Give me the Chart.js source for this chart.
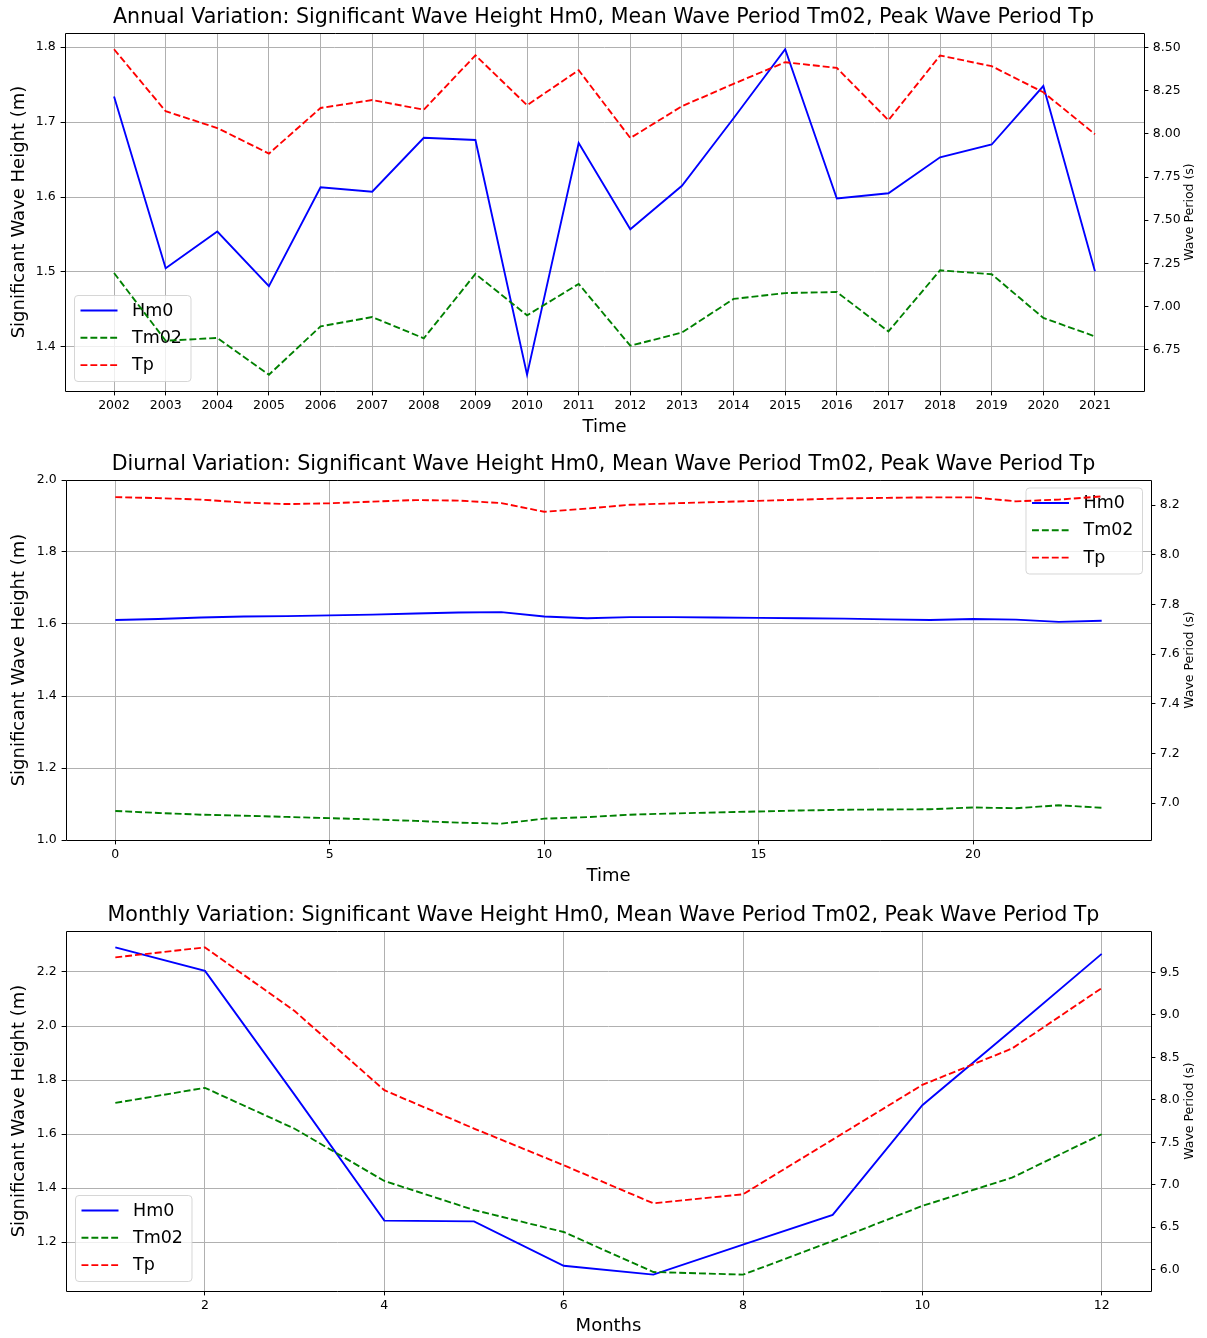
<!DOCTYPE html>
<html>
<head>
<meta charset="utf-8">
<script src="https://cdn.jsdelivr.net/npm/chart.js@4.4.0/dist/chart.umd.min.js"></script>
<style>
  html, body { margin: 0; padding: 0; background: #fff; }
  body { width: 1207px; height: 1338px; position: relative; overflow: hidden; }
  canvas { position: absolute; left: 0; }
</style>
</head>
<body>
<canvas id="c1" width="1207" height="446" style="top:0px"></canvas>
<canvas id="c2" width="1207" height="447" style="top:446px"></canvas>
<canvas id="c3" width="1207" height="445" style="top:893px"></canvas>
<script>
// ---------------- DATA ----------------
const years = [2002, 2003, 2004, 2005, 2006, 2007, 2008, 2009, 2010, 2011,
               2012, 2013, 2014, 2015, 2016, 2017, 2018, 2019, 2020, 2021];
const annualHm0  = [1.734, 1.505, 1.554, 1.481, 1.613, 1.607, 1.679, 1.676, 1.363, 1.672,
                    1.557, 1.615, 1.705, 1.797, 1.598, 1.605, 1.653, 1.670, 1.748, 1.501];
const annualTm02 = [7.194, 6.802, 6.818, 6.605, 6.885, 6.939, 6.816, 7.189, 6.949, 7.131,
                    6.773, 6.849, 7.044, 7.078, 7.084, 6.856, 7.210, 7.187, 6.934, 6.827];
const annualTp   = [8.490, 8.131, 8.034, 7.886, 8.150, 8.196, 8.140, 8.455, 8.166, 8.369,
                    7.976, 8.160, 8.290, 8.415, 8.382, 8.079, 8.454, 8.392, 8.241, 7.998];

const hours = [0, 1, 2, 3, 4, 5, 6, 7, 8, 9, 10, 11, 12, 13, 14, 15, 16, 17, 18, 19, 20, 21, 22, 23];
const diurnalHm0  = [1.611, 1.614, 1.618, 1.621, 1.622, 1.624, 1.626, 1.629, 1.632, 1.633, 1.621, 1.616,
                     1.619, 1.619, 1.618, 1.617, 1.616, 1.615, 1.613, 1.611, 1.614, 1.612, 1.606, 1.609];
const diurnalTm02 = [6.968, 6.960, 6.953, 6.949, 6.944, 6.939, 6.934, 6.928, 6.921, 6.917, 6.937, 6.943,
                     6.953, 6.958, 6.962, 6.966, 6.970, 6.973, 6.974, 6.975, 6.982, 6.979, 6.991, 6.981];
const diurnalTp   = [8.232, 8.228, 8.222, 8.210, 8.204, 8.207, 8.214, 8.220, 8.218, 8.208, 8.173, 8.186,
                     8.201, 8.207, 8.212, 8.217, 8.222, 8.227, 8.229, 8.231, 8.231, 8.215, 8.222, 8.235];

const months = [1, 2, 3, 4, 5, 6, 7, 8, 9, 10, 11, 12];
const monthlyHm0  = [2.291, 2.204, 1.745, 1.280, 1.277, 1.113, 1.080, 1.191, 1.301, 1.707, 1.985, 2.267];
const monthlyTm02 = [7.964, 8.141, 7.660, 7.045, 6.703, 6.444, 5.973, 5.942, 6.338, 6.751, 7.084, 7.595];
const monthlyTp   = [9.677, 9.795, 9.045, 8.113, 7.662, 7.230, 6.782, 6.888, 7.532, 8.176, 8.604, 9.315];

// tick labels
const annualXTicks  = years;
const annualYTicks  = [1.4, 1.5, 1.6, 1.7, 1.8];
const annualY1Ticks = [6.75, 7.00, 7.25, 7.50, 7.75, 8.00, 8.25, 8.50];
const diurnalXTicks  = [0, 5, 10, 15, 20];
const diurnalYTicks  = [1.0, 1.2, 1.4, 1.6, 1.8, 2.0];
const diurnalY1Ticks = [7.0, 7.2, 7.4, 7.6, 7.8, 8.0, 8.2];
const monthlyXTicks  = [2, 4, 6, 8, 10, 12];
const monthlyYTicks  = [1.2, 1.4, 1.6, 1.8, 2.0, 2.2];
const monthlyY1Ticks = [6.0, 6.5, 7.0, 7.5, 8.0, 8.5, 9.0, 9.5];

const seriesLabels = ['Hm0', 'Tm02', 'Tp'];
const titles = [
  'Annual Variation: Significant Wave Height Hm0, Mean Wave Period Tm02, Peak Wave Period Tp',
  'Diurnal Variation: Significant Wave Height Hm0, Mean Wave Period Tm02, Peak Wave Period Tp',
  'Monthly Variation: Significant Wave Height Hm0, Mean Wave Period Tm02, Peak Wave Period Tp'
];
const xAxisLabels = ['Time', 'Time', 'Months'];
const leftAxisLabel = 'Significant Wave Height (m)';
const rightAxisLabel = 'Wave Period (s)';

// ---------------- STYLE / LAYOUT ----------------
const FONT = "'DejaVu Sans', 'Liberation Sans', sans-serif";
const PAGE_W = 1207;
const LW = 1.875;
const DASH = [6.9, 3.0];
const GRID = '#b0b0b0';
const TITLE_SIZE = 20.6;

function lim(arrs) {
  let mn = Infinity, mx = -Infinity;
  arrs.forEach(a => a.forEach(v => { if (v < mn) mn = v; if (v > mx) mx = v; }));
  const p = (mx - mn) * 0.05;
  return [mn - p, mx + p];
}

function roundRect(ctx, x, y, w, h, r) {
  ctx.beginPath();
  ctx.moveTo(x + r, y);
  ctx.lineTo(x + w - r, y);
  ctx.arcTo(x + w, y, x + w, y + r, r);
  ctx.lineTo(x + w, y + h - r);
  ctx.arcTo(x + w, y + h, x + w - r, y + h, r);
  ctx.lineTo(x + r, y + h);
  ctx.arcTo(x, y + h, x, y + h - r, r);
  ctx.lineTo(x, y + r);
  ctx.arcTo(x, y, x + r, y, r);
  ctx.closePath();
}

const decoPlugin = {
  id: 'deco',
  afterDatasetDraw(chart, args, o) {
    if (args.index !== 0) return;   // legend sits above Hm0 but below the twin-axis lines
    const ctx = chart.ctx, a = chart.chartArea;
    const ds = chart.data.datasets;
    ctx.save();
    ctx.font = '17.5px ' + FONT;
    const tw = Math.max(...ds.map(d => ctx.measureText(d.label).width));
    const w = 57.5 + tw + 9, h = 86;
    let x, y;
    if (o.legend === 'll') { x = a.left + 9.5; y = a.bottom - 9.5 - h; }
    else { x = a.right - 8.5 - w; y = a.top + 8; }
    roundRect(ctx, x, y, w, h, 3.5);
    ctx.fillStyle = 'rgba(255,255,255,0.8)';
    ctx.fill();
    ctx.strokeStyle = 'rgba(204,204,204,0.8)';
    ctx.lineWidth = 1;
    ctx.stroke();
    ds.forEach((d, i) => {
      const cy = y + 15 + i * 27.3;
      ctx.beginPath();
      ctx.setLineDash(d.borderDash || []);
      ctx.strokeStyle = d.borderColor;
      ctx.lineWidth = d.borderWidth;
      ctx.moveTo(x + 6, cy);
      ctx.lineTo(x + 43, cy);
      ctx.stroke();
      ctx.setLineDash([]);
      ctx.fillStyle = '#000';
      ctx.textBaseline = 'middle';
      ctx.textAlign = 'left';
      ctx.fillText(d.label, x + 57.5, cy + 0.5);
    });
    ctx.restore();
  },
  afterDatasetsDraw(chart, args, o) {
    const ctx = chart.ctx, a = chart.chartArea;
    ctx.save();
    ctx.strokeStyle = '#000';
    ctx.lineWidth = 1;
    ctx.beginPath();
    ctx.rect(a.left + 0.5, a.top + 0.5, a.right - a.left, a.bottom - a.top);
    ctx.stroke();
    // right axis label (reads bottom-to-top like matplotlib)
    ctx.font = '12.5px ' + FONT;
    ctx.fillStyle = '#000';
    ctx.textAlign = 'center';
    ctx.textBaseline = 'middle';
    ctx.translate(o.rightLabelX, (a.top + a.bottom) / 2);
    ctx.rotate(-Math.PI / 2);
    ctx.fillText(rightAxisLabel, 0, 0);
    ctx.restore();
  }
};

function setTicks(values) {
  return (scale) => { scale.ticks = values.map(v => ({ value: v })); };
}

function build(id, cfg) {
  const g = cfg.geom;
  const H = g.canvasH;
  const lhTitle = TITLE_SIZE * 1.2, lhAxis = 18 * 1.2;
  const tPadTop = g.titleMid - g.canvasTop - lhTitle / 2;
  const tPadBot = (g.plotTop - g.canvasTop) - tPadTop - lhTitle;
  const xTitlePad = (g.canvasTop + H) - g.xTitleMid - lhAxis / 2;
  const xl = lim([cfg.x]);
  const yl = cfg.yLim || lim([cfg.hm0]);
  const y1l = lim([cfg.tm02, cfg.tp]);
  const tickFont = { family: FONT, size: 12.5 };
  const mk = (arr) => cfg.x.map((v, i) => ({ x: v, y: arr[i] }));

  return new Chart(document.getElementById(id), {
    type: 'line',
    data: {
      datasets: [
        { label: seriesLabels[0], data: mk(cfg.hm0), yAxisID: 'y', borderColor: '#0000ff',
          backgroundColor: '#0000ff', borderWidth: LW, pointRadius: 0, tension: 0, fill: false, order: 2 },
        { label: seriesLabels[1], data: mk(cfg.tm02), yAxisID: 'y1', borderColor: '#008000',
          backgroundColor: '#008000', borderWidth: LW, borderDash: DASH, pointRadius: 0, tension: 0, fill: false, order: 1 },
        { label: seriesLabels[2], data: mk(cfg.tp), yAxisID: 'y1', borderColor: '#ff0000',
          backgroundColor: '#ff0000', borderWidth: LW, borderDash: DASH, pointRadius: 0, tension: 0, fill: false, order: 0 }
      ]
    },
    options: {
      responsive: false,
      animation: false,
      events: [],
      layout: { padding: 0 },
      plugins: {
        legend: { display: false },
        tooltip: { enabled: false },
        title: {
          display: true, text: cfg.title, color: '#000',
          font: { family: FONT, size: TITLE_SIZE, weight: 'normal', lineHeight: 1.2 },
          padding: { top: tPadTop, bottom: tPadBot }
        },
        deco: { legend: cfg.legend, rightLabelX: 1190 }
      },
      scales: {
        x: {
          type: 'linear', position: 'bottom', bounds: 'data',
          min: xl[0], max: xl[1],
          afterBuildTicks: setTicks(cfg.xTicks),
          afterFit: (s) => { s.height = (g.canvasTop + H) - g.plotBottom; },
          grid: { color: GRID, lineWidth: 1, drawTicks: true, tickLength: 4.4, tickColor: '#000' },
          border: { display: false },
          ticks: { autoSkip: false, maxRotation: 0, minRotation: 0, padding: 3, color: '#000', font: tickFont,
                   callback: (v) => String(Math.round(v)) },
          title: { display: true, text: cfg.xLabel, color: '#000', font: { family: FONT, size: 18 },
                   padding: { top: 0, bottom: xTitlePad } }
        },
        y: {
          type: 'linear', position: 'left', bounds: 'data',
          min: yl[0], max: yl[1],
          afterBuildTicks: setTicks(cfg.yTicks),
          afterFit: (s) => { s.width = g.plotLeft; },
          grid: { color: GRID, lineWidth: 1, drawTicks: true, tickLength: 4.4, tickColor: '#000' },
          border: { display: false },
          ticks: { autoSkip: false, padding: 5, color: '#000', font: tickFont,
                   callback: (v) => v.toFixed(cfg.yDec) },
          title: { display: true, text: leftAxisLabel, color: '#000', font: { family: FONT, size: 18 },
                   padding: { top: 8.2, bottom: 0 } }
        },
        y1: {
          type: 'linear', position: 'right', bounds: 'data',
          min: y1l[0], max: y1l[1],
          afterBuildTicks: setTicks(cfg.y1Ticks),
          afterFit: (s) => { s.width = PAGE_W - g.plotRight; },
          grid: { drawOnChartArea: false, drawTicks: true, tickLength: 4.4, tickColor: '#000', color: GRID },
          border: { display: false },
          ticks: { autoSkip: false, padding: 4.4, color: '#000', font: tickFont,
                   callback: (v) => v.toFixed(cfg.y1Dec) }
        }
      }
    },
    plugins: [decoPlugin]
  });
}

build('c1', {
  x: years, hm0: annualHm0, tm02: annualTm02, tp: annualTp,
  title: titles[0], xLabel: xAxisLabels[0], legend: 'll',
  xTicks: annualXTicks, yTicks: annualYTicks, y1Ticks: annualY1Ticks, yDec: 1, y1Dec: 2,
  geom: { canvasTop: 0, canvasH: 446, plotTop: 33, plotBottom: 391, plotLeft: 65, plotRight: 1144,
          titleMid: 18, xTitleMid: 427 }
});
build('c2', {
  x: hours, hm0: diurnalHm0, tm02: diurnalTm02, tp: diurnalTp,
  title: titles[1], xLabel: xAxisLabels[1], legend: 'ur', yLim: [1.0, 2.0],
  xTicks: diurnalXTicks, yTicks: diurnalYTicks, y1Ticks: diurnalY1Ticks, yDec: 1, y1Dec: 1,
  geom: { canvasTop: 446, canvasH: 447, plotTop: 480, plotBottom: 840, plotLeft: 66, plotRight: 1151,
          titleMid: 465, xTitleMid: 876 }
});
build('c3', {
  x: months, hm0: monthlyHm0, tm02: monthlyTm02, tp: monthlyTp,
  title: titles[2], xLabel: xAxisLabels[2], legend: 'll',
  xTicks: monthlyXTicks, yTicks: monthlyYTicks, y1Ticks: monthlyY1Ticks, yDec: 1, y1Dec: 1,
  geom: { canvasTop: 893, canvasH: 445, plotTop: 931, plotBottom: 1291, plotLeft: 66, plotRight: 1151,
          titleMid: 916, xTitleMid: 1326 }
});
</script>
</body>
</html>
